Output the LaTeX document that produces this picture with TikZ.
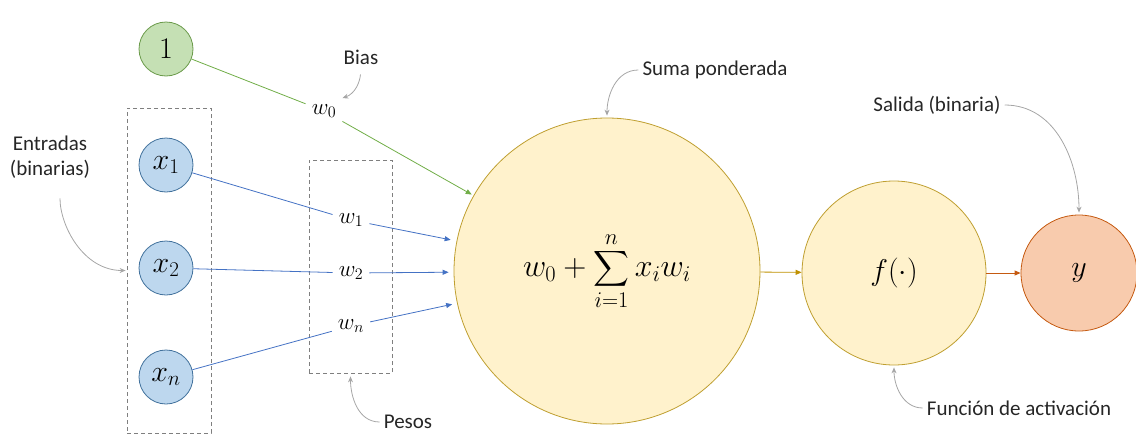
\RequirePackage{fix-cm}
\documentclass[tikz,border=0pt]{standalone}
\usepackage{amsmath}
\usepackage{fontspec}
\setmainfont{Carlito}
\usepackage{tikz}
\usetikzlibrary{arrows.meta}
\definecolor{leaf}{HTML}{C5E0B4}
\definecolor{leafline}{HTML}{6A9A4A}
\definecolor{leafwire}{HTML}{70AD47}
\definecolor{ice}{HTML}{BDD7EE}
\definecolor{iceline}{HTML}{41719C}
\definecolor{wire}{HTML}{4472C4}
\definecolor{cream}{HTML}{FFF2CC}
\definecolor{creamline}{HTML}{BF9F30}
\definecolor{goldwire}{HTML}{BF9000}
\definecolor{peach}{HTML}{F8CBAD}
\definecolor{rust}{HTML}{C55A11}
\definecolor{ash}{HTML}{7F7F7F}
\definecolor{notegray}{HTML}{A6A6A6}
\tikzset{
  >={Triangle[length=6pt,width=5pt]},
  neuron/.style={circle,line width=0.8pt,inner sep=0pt,font=\fontsize{30}{34}\selectfont},
  biasnode/.style={neuron,draw=leafline,fill=leaf,minimum size=54pt},
  inputnode/.style={neuron,draw=iceline,fill=ice,minimum size=54pt},
  sumnode/.style={neuron,draw=creamline,fill=cream,minimum size=306pt,font=\fontsize{32}{36}\selectfont},
  actnode/.style={neuron,draw=creamline,fill=cream,minimum size=184pt},
  outnode/.style={neuron,draw=rust,fill=peach,minimum size=116pt},
  weight/.style={inner sep=6pt,font=\fontsize{23}{27}\selectfont},
  groupbox/.style={draw=ash,line width=0.8pt,dash pattern=on 4pt off 3pt},
  note/.style={font=\fontsize{21}{25}\selectfont,text=black!85,align=center,inner sep=4pt},
  notearrow/.style={-{Stealth[length=6pt,width=5pt]},draw=notegray,line width=0.8pt},
  greenline/.style={draw=leafwire,line width=0.8pt},
  blueline/.style={draw=wire,line width=0.8pt}
}
\begin{document}
\begin{tikzpicture}[x=1pt,y=-1pt]
  \useasboundingbox (0,0) rectangle (1136,434);
  \node[groupbox,minimum width=84pt,minimum height=325pt] (inbox) at (169,270.5) {};
  \node[groupbox,minimum width=83pt,minimum height=213pt] (wbox) at (350.5,266.5) {};
  \node[biasnode] (one) at (166,49) {$1$};
  \node[inputnode] (x1) at (166,165) {$x_1$};
  \node[inputnode] (x2) at (166,268) {$x_2$};
  \node[inputnode] (xn) at (166,377) {$x_n$};
  \node[sumnode] (sum) at (607,271) {$\displaystyle w_0+\sum_{i=1}^{n}x_iw_i$};
  \node[actnode] (act) at (894,273) {$f(\cdot)$};
  \node[outnode] (out) at (1079,273) {$y$};
  \node[weight] (w0) at (324,111) {$w_0$};
  \node[weight] (w1) at (351,220) {$w_1$};
  \node[weight] (w2) at (351,273) {$w_2$};
  \node[weight] (wn) at (351,326) {$w_n$};
  \draw[greenline] (one) -- (w0);
  \draw[greenline,->,shorten >=2pt] (w0) -- (sum);
  \draw[blueline] (x1) -- (w1);
  \draw[blueline,->,shorten >=6pt] (w1) -- (sum);
  \draw[blueline] (x2) -- (w2);
  \draw[blueline,->,shorten >=5pt] (w2) -- (sum);
  \draw[blueline] (xn) -- (wn);
  \draw[blueline,->,shorten >=5pt] (wn) -- (sum);
  \draw[draw=goldwire,line width=0.8pt,->] (sum) -- (act);
  \draw[draw=rust,line width=0.8pt,->] (act) -- (out);
  \node[note] (bias) at (361,57) {Bias};
  \node[note] (suma) at (715,70) {Suma ponderada};
  \node[note] (salida) at (937,105) {Salida (binaria)};
  \node[note] (func) at (1019,408) {Función de activación};
  \node[note] (pesos) at (408,422) {Pesos};
  \node[note] (entradas) at (50,157) {Entradas\\(binarias)};
  \draw[notearrow,shorten <=6pt] (bias.south) to[out=-95,in=20] (w0.north east);
  \draw[notearrow,shorten >=2pt] (suma.west) to[out=180,in=90] (sum.north);
  \draw[notearrow,shorten >=2pt] (salida.east) to[out=0,in=90] (out.north);
  \draw[notearrow,shorten >=2pt] (func.west) to[out=180,in=-90] (act.south);
  \draw[notearrow,shorten >=3pt] (pesos.west) to[out=180,in=-90] (wbox.south);
  \draw[notearrow,shorten <=16pt,shorten >=1pt] ([xshift=10pt]entradas.south) to[out=-90,in=180] (inbox.west);
\end{tikzpicture}
\end{document}
